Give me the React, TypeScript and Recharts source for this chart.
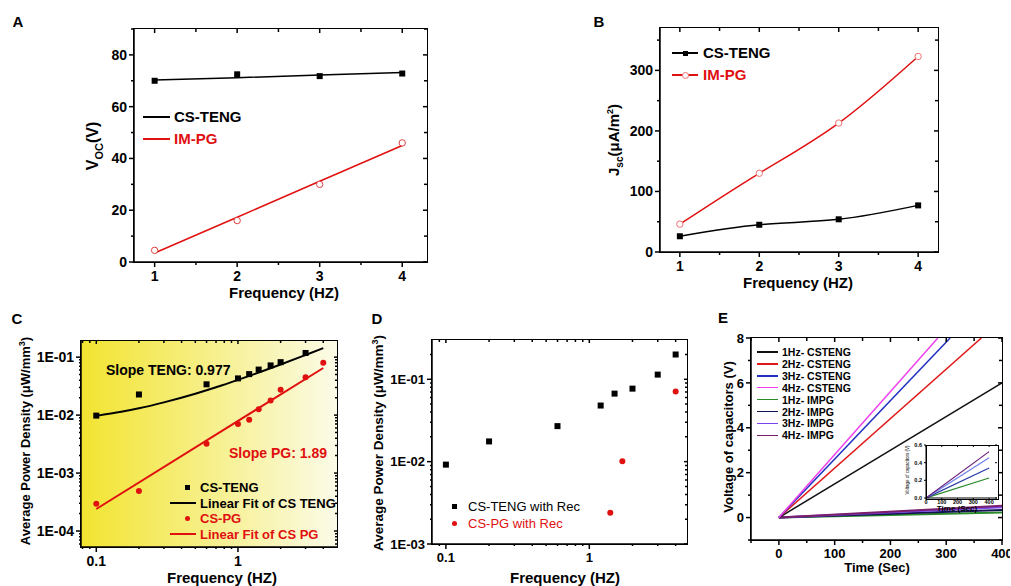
import React from 'react';
import { ComposedChart, Line, Scatter, XAxis, YAxis } from 'recharts';

// A - open circuit voltage vs frequency
const freqHz = [1, 2, 3, 4];
const vocTeng = [70, 72.5, 71.8, 72.8];
const vocTengFit = [70.3, 71.2, 72.2, 73.2];
const vocPg = [4.5, 16, 30, 46];
const vocPgFit = [3.5, 17.3, 31.2, 45];

// B - short circuit current density
const jscTeng = [26, 45, 54, 77];
const jscPg = [46, 130, 213, 323];

// C - average power density (log-log) with fits
const freqCTeng = [0.1, 0.2, 0.6, 1, 1.2, 1.4, 1.7, 2, 3];
const powTeng = [0.0098, 0.0227, 0.034, 0.043, 0.051, 0.061, 0.072, 0.082, 0.118];
const freqCPg = [0.1, 0.2, 0.6, 1, 1.2, 1.4, 1.7, 2, 3, 4];
const powPg = [2.95e-4, 4.9e-4, 3.2e-3, 7.0e-3, 8.3e-3, 0.0126, 0.0178, 0.0275, 0.045, 0.08];
const fitTengX = [0.1, 0.15, 0.2, 0.3, 0.5, 0.7, 1, 1.5, 2, 3, 4];
const fitTengY = [0.0097, 0.0114, 0.0131, 0.0166, 0.0234, 0.0302, 0.0405, 0.0576, 0.0747, 0.109, 0.143];
const fitPgX = [0.1, 4];
const fitPgY = [2.4e-4, 0.065];

// D - with rectifier
const freqDTeng = [0.1, 0.2, 0.6, 1.2, 1.5, 2, 3, 4];
const powTengRec = [0.0092, 0.0176, 0.027, 0.048, 0.067, 0.077, 0.114, 0.2];
const freqDPg = [1.4, 1.7, 4];
const powPgRec = [0.0024, 0.0101, 0.071];

// E - capacitor charging
const tengNames = ['1Hz- CSTENG', '2Hz- CSTENG', '3Hz- CSTENG', '4Hz- CSTENG'];
const tengEndT = [400, 363, 307, 285];
const tengEndV = [6.0, 8, 8, 8];
const pgNames = ['1Hz- IMPG', '2Hz- IMPG', '3Hz- IMPG', '4Hz- IMPG'];
const pgEndT = [400, 400, 400, 400];
const pgEndV = [0.226, 0.34, 0.457, 0.525];

const tengColors = ['#111111', '#e01818', '#2030c0', '#f040f0'];
const pgColors = ['#2a8a2a', '#141450', '#7744ee', '#7a1f6a'];
const insetColors = ['#2a8a2a', '#2a3aa8', '#6f7ff0', '#6a1f7a'];

const pts = (xs: number[], ys: number[]) => xs.map((x, i) => ({ x, y: ys[i] }));
const FONT = '"Liberation Sans", Arial, sans-serif';

type Box = { x0: number; y0: number; x1: number; y1: number };
type Cfg = {
  box: Box;
  padL: number;
  padB: number;
  fs: number;
  xDomain: [number, number];
  yDomain: [number, number];
  xTicks: number[];
  yTicks: number[];
  xMinor: number[];
  yMinor: number[];
  xLog?: boolean;
  yLog?: boolean;
  xFmt?: (v: number) => string;
  yFmt?: (v: number) => string;
  tk?: number;
  mn?: number;
  sw?: number;
  xGap?: number;
};

const logMinor = (lo: number, hi: number) => {
  const out: number[] = [];
  for (let e = -6; e <= 2; e++) {
    for (let m = 2; m <= 9; m++) {
      const v = m * Math.pow(10, e);
      if (v > lo && v < hi) out.push(v);
    }
  }
  return out;
};
const sci = (v: number) => '1E-0' + Math.round(-Math.log10(v));
const has = (arr: number[], v: number) => arr.some((a) => Math.abs(a - v) <= Math.abs(a) * 1e-6 + 1e-12);

function Plot({ cfg, children }: { cfg: Cfg; children?: React.ReactNode }) {
  const { box, padL, padB, fs } = cfg;
  const padT = 8;
  const padR = 8;
  const pw = box.x1 - box.x0;
  const ph = box.y1 - box.y0;
  const w = pw + padL + padR;
  const h = ph + padT + padB;
  const tk = cfg.tk ?? 5;
  const mn = cfg.mn ?? 3;
  const sw = cfg.sw ?? 1.5;
  const gap = cfg.xGap ?? 3;
  const inX = [...cfg.xTicks, ...cfg.xMinor].filter((v) => v >= cfg.xDomain[0] && v <= cfg.xDomain[1]);
  const inY = [...cfg.yTicks, ...cfg.yMinor].filter((v) => v >= cfg.yDomain[0] && v <= cfg.yDomain[1]);
  const xf = cfg.xFmt ?? ((v: number) => String(v));
  const yf = cfg.yFmt ?? ((v: number) => String(v));
  const ls = { stroke: '#000', strokeWidth: sw };

  // bottom axis tick: outward mark, label, plus the inward mark on the top frame
  const xTick = (p: any) => {
    const v = p.payload.value;
    const major = has(cfg.xTicks, v);
    const L = major ? tk : mn;
    const T = major ? Math.max(mn + 1, 2) : mn;
    return (
      <g>
        {L > 0 && <line x1={p.x} x2={p.x} y1={p.y} y2={p.y + L} {...ls} />}
        {T > 0 && <line x1={p.x} x2={p.x} y1={p.y - ph} y2={p.y - ph + T} {...ls} />}
        {major && (
          <text x={p.x} y={p.y + tk + gap + fs * 0.75} textAnchor="middle" fontSize={fs} fontWeight={700} fontFamily={FONT} fill="#000">
            {xf(v)}
          </text>
        )}
      </g>
    );
  };
  // left axis tick: outward mark, label, plus the inward mark on the right frame
  const yTick = (p: any) => {
    const v = p.payload.value;
    const major = has(cfg.yTicks, v);
    const L = major ? tk : mn;
    const T = major ? Math.max(mn + 1, 2) : mn;
    return (
      <g>
        {L > 0 && <line x1={p.x} x2={p.x - L} y1={p.y} y2={p.y} {...ls} />}
        {T > 0 && <line x1={p.x + pw} x2={p.x + pw - T} y1={p.y} y2={p.y} {...ls} />}
        {major && (
          <text x={p.x - tk - 2} y={p.y + fs * 0.36} textAnchor="end" fontSize={fs} fontWeight={700} fontFamily={FONT} fill="#000">
            {yf(v)}
          </text>
        )}
      </g>
    );
  };

  return (
    <>
      <div style={{ position: 'absolute', left: box.x0 - padL, top: box.y0 - padT }}>
        <ComposedChart width={w} height={h} margin={{ top: padT, right: padR, left: 0, bottom: 0 }}>
          <XAxis dataKey="x" type="number" scale={cfg.xLog ? 'log' : 'linear'} domain={cfg.xDomain} allowDataOverflow
            ticks={inX} interval={0} height={padB} tickSize={0} tickMargin={0}
            axisLine={ls} tickLine={false} tick={xTick} />
          <YAxis type="number" scale={cfg.yLog ? 'log' : 'linear'} domain={cfg.yDomain} allowDataOverflow
            ticks={inY} interval={0} width={padL} tickSize={0} tickMargin={0}
            axisLine={ls} tickLine={false} tick={yTick} />
          {children}
        </ComposedChart>
      </div>
      <div style={{ position: 'absolute', left: box.x0 - sw / 2, top: box.y0 - sw / 2, width: pw, height: ph, border: `${sw}px solid #000`, pointerEvents: 'none' }} />
    </>
  );
}

function Txt({ x, y, size, color = '#000', rot = false, left = false, weight = 700, children }: {
  x: number; y: number; size: number; color?: string; rot?: boolean; left?: boolean; weight?: number; children: React.ReactNode;
}) {
  const t = (left ? 'translate(0,-50%)' : 'translate(-50%,-50%)') + (rot ? ' rotate(-90deg)' : '');
  return (
    <div style={{ position: 'absolute', left: x, top: y, transform: t, fontSize: size, color, fontWeight: weight, whiteSpace: 'nowrap', lineHeight: 1 }}>
      {children}
    </div>
  );
}

function Seg({ x0, x1, y, color, h = 2 }: { x0: number; x1: number; y: number; color: string; h?: number }) {
  return <div style={{ position: 'absolute', left: x0, top: y - h / 2, width: x1 - x0, height: h, background: color }} />;
}

function Mark({ x, y, s, color, round }: { x: number; y: number; s: number; color: string; round?: boolean }) {
  return <div style={{ position: 'absolute', left: x - s / 2, top: y - s / 2, width: s, height: s, background: color, borderRadius: round ? '50%' : 0 }} />;
}

const squareShape = (s: number) => (p: any) => (
  <rect x={p.cx - s / 2} y={p.cy - s / 2} width={s} height={s} fill="#000" />
);
const dotShape = (r: number, c: string) => (p: any) => <circle cx={p.cx} cy={p.cy} r={r} fill={c} />;
const ringShape = (p: any) => <circle cx={p.cx} cy={p.cy} r={3.2} fill="#fff" stroke="#e04040" strokeWidth={1} />;
const lineSquare = (p: any) => <rect key={p.index} x={p.cx - 3} y={p.cy - 3} width={6} height={6} fill="#000" />;
const lineRing = (p: any) => <circle key={p.index} cx={p.cx} cy={p.cy} r={3.2} fill="#fff" stroke="#f07070" strokeWidth={1} />;

const cfgA: Cfg = {
  box: { x0: 134, y0: 29, x1: 427, y1: 262 }, padL: 40, padB: 24, fs: 14,
  xDomain: [0.75, 4.3], yDomain: [0, 90], xTicks: [1, 2, 3, 4], yTicks: [0, 20, 40, 60, 80],
  xMinor: [1.5, 2.5, 3.5], yMinor: [10, 30, 50, 70, 90],
};
const cfgB: Cfg = {
  box: { x0: 660, y0: 28, x1: 938, y1: 252 }, padL: 40, padB: 24, fs: 14,
  xDomain: [0.75, 4.25], yDomain: [0, 370], xTicks: [1, 2, 3, 4], yTicks: [0, 100, 200, 300],
  xMinor: [1.5, 2.5, 3.5], yMinor: [50, 150, 250, 350],
};
const cfgC: Cfg = {
  box: { x0: 81, y0: 341, x1: 337, y1: 547 }, padL: 50, padB: 24, fs: 14,
  xDomain: [0.078, 5], yDomain: [5.3e-5, 0.19], xTicks: [0.1, 1], yTicks: [1e-4, 1e-3, 1e-2, 1e-1],
  xMinor: logMinor(0.078, 5), yMinor: logMinor(5.3e-5, 0.19), xLog: true, yLog: true, yFmt: sci, mn: 2,
};
const cfgD: Cfg = {
  box: { x0: 432, y0: 340, x1: 687, y1: 544 }, padL: 50, padB: 24, fs: 13,
  xDomain: [0.08, 4.8], yDomain: [1e-3, 0.3], xTicks: [0.1, 1], yTicks: [1e-3, 1e-2, 1e-1],
  xMinor: logMinor(0.08, 4.8), yMinor: logMinor(1e-3, 0.3), xLog: true, yLog: true, yFmt: sci, mn: 2,
};
const cfgE: Cfg = {
  box: { x0: 751, y0: 338, x1: 1002, y1: 540 }, padL: 24, padB: 22, fs: 13,
  xDomain: [-50, 400], yDomain: [-1, 8], xTicks: [0, 100, 200, 300, 400], yTicks: [0, 2, 4, 6, 8],
  xMinor: [-50, 50, 150, 250, 350], yMinor: [-1, 1, 3, 5, 7],
};
const cfgInset: Cfg = {
  box: { x0: 926, y0: 445, x1: 997, y1: 498 }, padL: 14, padB: 8, fs: 5.5,
  xDomain: [0, 450], yDomain: [0, 0.6], xTicks: [0, 100, 200, 300, 400], yTicks: [0, 0.2, 0.4, 0.6],
  xMinor: [], yMinor: [], yFmt: (v) => v.toFixed(1), tk: 2, mn: 0, sw: 1, xGap: 0,
};

export default function App() {
  return (
    <div style={{ position: 'absolute', left: 0, top: 0, width: 1011, height: 586, background: '#fff', fontFamily: FONT, overflow: 'hidden' }}>
      {/* A */}
      <Txt x={18} y={21} size={15}>A</Txt>
      <Plot cfg={cfgA}>
        <Line data={pts(freqHz, vocTengFit)} dataKey="y" stroke="#000" strokeWidth={1.5} dot={false} isAnimationActive={false} />
        <Line data={pts(freqHz, vocPgFit)} dataKey="y" stroke="#e01010" strokeWidth={1.5} dot={false} isAnimationActive={false} />
        <Scatter data={pts(freqHz, vocTeng)} dataKey="y" shape={squareShape(6)} isAnimationActive={false} />
        <Scatter data={pts(freqHz, vocPg)} dataKey="y" shape={ringShape} isAnimationActive={false} />
      </Plot>
      <Txt x={95} y={146} size={16} rot>
        V<span style={{ fontSize: 11, verticalAlign: 'sub' }}>OC</span>(V)
      </Txt>
      <Txt x={284} y={292} size={15}>Frequency (HZ)</Txt>
      <Seg x0={143} x1={170} y={117} color="#000" />
      <Txt x={174} y={116} size={15} left>CS-TENG</Txt>
      <Seg x0={143} x1={170} y={139} color="#e01010" />
      <Txt x={174} y={138} size={15} left color="#e01010">IM-PG</Txt>

      {/* B */}
      <Txt x={599} y={21} size={15}>B</Txt>
      <Plot cfg={cfgB}>
        <Line data={pts(freqHz, jscTeng)} dataKey="y" type="natural" stroke="#000" strokeWidth={1.5} dot={lineSquare} isAnimationActive={false} />
        <Line data={pts(freqHz, jscPg)} dataKey="y" type="natural" stroke="#e01010" strokeWidth={1.5} dot={lineRing} isAnimationActive={false} />
      </Plot>
      <Txt x={615} y={140} size={15} rot>
        J<span style={{ fontSize: 10, verticalAlign: 'sub' }}>sc</span>(μA/m<span style={{ fontSize: 9, verticalAlign: 'super' }}>2</span>)
      </Txt>
      <Txt x={798} y={282} size={15}>Frequency (HZ)</Txt>
      <Seg x0={672} x1={698} y={53} color="#000" />
      <Mark x={685} y={53} s={5} color="#000" />
      <Txt x={703} y={52} size={15} left>CS-TENG</Txt>
      <Seg x0={672} x1={698} y={75} color="#e01010" />
      <div style={{ position: 'absolute', left: 681.5, top: 71.5, width: 5, height: 5, borderRadius: '50%', background: '#fff', border: '1px solid #f07070' }} />
      <Txt x={703} y={74} size={15} left color="#e01010">IM-PG</Txt>

      {/* C */}
      <Txt x={17} y={318} size={15}>C</Txt>
      <div style={{ position: 'absolute', left: 81, top: 341, width: 256, height: 206, background: 'linear-gradient(to right, #f2e430 0%, #f6ee80 45%, #fbfbe8 100%)' }} />
      <Plot cfg={cfgC}>
        <Line data={pts(fitTengX, fitTengY)} dataKey="y" type="monotone" stroke="#000" strokeWidth={2} dot={false} isAnimationActive={false} />
        <Line data={pts(fitPgX, fitPgY)} dataKey="y" stroke="#e01010" strokeWidth={2} dot={false} isAnimationActive={false} />
        <Scatter data={pts(freqCTeng, powTeng)} dataKey="y" shape={squareShape(6)} isAnimationActive={false} />
        <Scatter data={pts(freqCPg, powPg)} dataKey="y" shape={dotShape(3, '#e01010')} isAnimationActive={false} />
      </Plot>
      <Txt x={25} y={441} size={13} rot>
        Average Power Density (μW/mm<span style={{ fontSize: 9, verticalAlign: 'super' }}>3</span>)
      </Txt>
      <Txt x={222} y={577} size={15}>Frequency (HZ)</Txt>
      <Txt x={106} y={370} size={14} left>Slope TENG: 0.977</Txt>
      <Txt x={229} y={453} size={14} left color="#e01010">Slope PG: 1.89</Txt>
      <Mark x={187} y={487} s={5} color="#000" />
      <Txt x={200} y={487} size={13} left>CS-TENG</Txt>
      <Seg x0={170} x1={196} y={503} color="#000" />
      <Txt x={200} y={503} size={13} left>Linear Fit of CS TENG</Txt>
      <Mark x={187} y={518} s={5} color="#e01010" round />
      <Txt x={200} y={518} size={13} left color="#e01010">CS-PG</Txt>
      <Seg x0={170} x1={196} y={534} color="#e01010" />
      <Txt x={200} y={534} size={13} left color="#e01010">Linear Fit of CS PG</Txt>

      {/* D */}
      <Txt x={377} y={318} size={15}>D</Txt>
      <Plot cfg={cfgD}>
        <Scatter data={pts(freqDTeng, powTengRec)} dataKey="y" shape={squareShape(6)} isAnimationActive={false} />
        <Scatter data={pts(freqDPg, powPgRec)} dataKey="y" shape={dotShape(3, '#e01010')} isAnimationActive={false} />
      </Plot>
      <Txt x={378} y={443} size={13.5} rot>
        Average Power Density (μW/mm<span style={{ fontSize: 9, verticalAlign: 'super' }}>3</span>)
      </Txt>
      <Txt x={565} y={577} size={15}>Frequency (HZ)</Txt>
      <Mark x={454} y={506} s={5} color="#000" />
      <Txt x={468} y={506} size={13} left weight={500}>CS-TENG with Rec</Txt>
      <Mark x={454} y={523} s={5} color="#e01010" round />
      <Txt x={468} y={523} size={13} left weight={500} color="#e01010">CS-PG with Rec</Txt>

      {/* E */}
      <Txt x={723} y={317} size={15}>E</Txt>
      <Plot cfg={cfgE}>
        {pgNames.map((n, i) => (
          <Line key={n} data={pts([0, pgEndT[i]], [0, pgEndV[i]])} dataKey="y" stroke={pgColors[i]} strokeWidth={2} dot={false} isAnimationActive={false} />
        ))}
        {tengNames.map((n, i) => (
          <Line key={n} data={pts([0, tengEndT[i]], [0, tengEndV[i]])} dataKey="y" stroke={tengColors[i]} strokeWidth={1.5} dot={false} isAnimationActive={false} />
        ))}
      </Plot>
      <Txt x={728} y={437} size={13} rot>Voltage of capacitors (V)</Txt>
      <Txt x={877} y={567} size={13}>Time (Sec)</Txt>
      {[...tengNames, ...pgNames].map((n, i) => (
        <React.Fragment key={n}>
          <Seg x0={757} x1={778} y={352 + i * 11.9} color={[...tengColors, ...pgColors][i]} h={1.5} />
          <Txt x={782} y={352 + i * 11.9} size={10.5} left>{n}</Txt>
        </React.Fragment>
      ))}
      <div style={{ position: 'absolute', left: 926, top: 445, width: 71, height: 53, background: '#fff' }} />
      <Plot cfg={cfgInset}>
        {pgNames.map((n, i) => (
          <Line key={n} data={pts([0, pgEndT[i]], [0, pgEndV[i]])} dataKey="y" stroke={insetColors[i]} strokeWidth={1.2} dot={false} isAnimationActive={false} />
        ))}
      </Plot>
      <Txt x={908} y={470} size={4.5} rot weight={500}>Voltage of capacitors (V)</Txt>
      <Txt x={957} y={509} size={8}>Time (Sec)</Txt>
    </div>
  );
}
